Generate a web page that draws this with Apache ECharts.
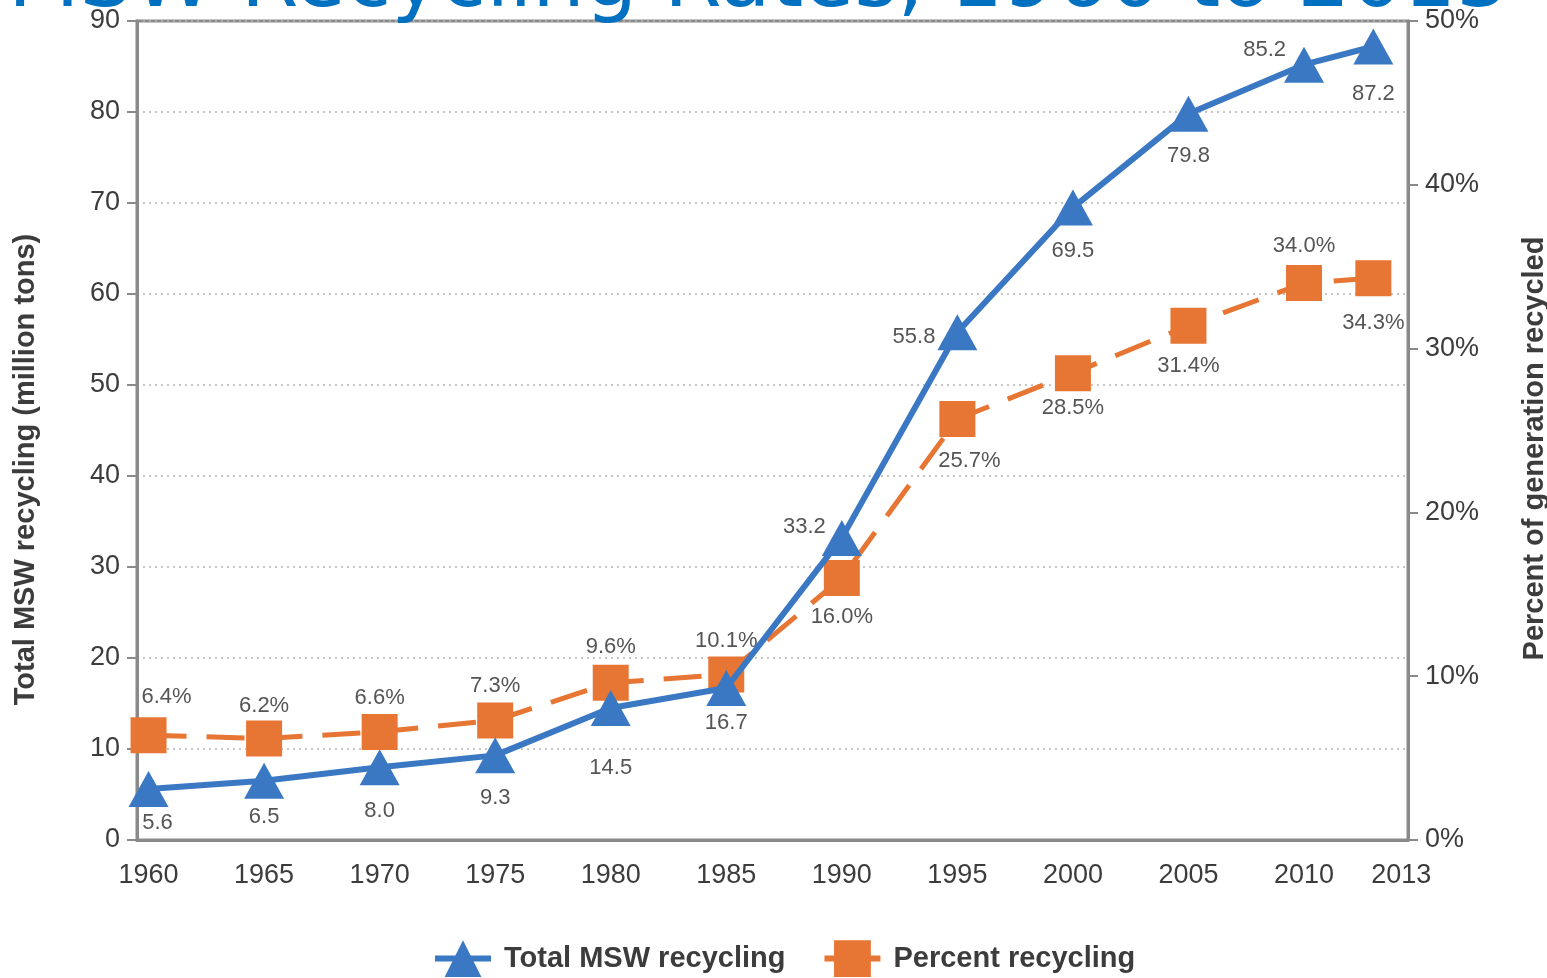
<!DOCTYPE html>
<html>
<head>
<meta charset="utf-8">
<title>MSW Recycling Rates, 1960 to 2013</title>
<script src="https://cdn.jsdelivr.net/npm/echarts@6/dist/echarts.min.js"></script>
<style>
  html, body { margin: 0; padding: 0; background: #ffffff; }
  #chart { width: 1547px; height: 978px; }
</style>
</head>
<body>
<div id="chart"></div>
<script>
// Municipal solid waste recycling, 1960–2013
const years = [1960, 1965, 1970, 1975, 1980, 1985, 1990, 1995, 2000, 2005, 2010, 2013];
const totalRecycling = [5.6, 6.5, 8.0, 9.3, 14.5, 16.7, 33.2, 55.8, 69.5, 79.8, 85.2, 87.2];   // million tons
const percentRecycled = [6.4, 6.2, 6.6, 7.3, 9.6, 10.1, 16.0, 25.7, 28.5, 31.4, 34.0, 34.3];   // % of generation
const yearTickLabels = [1960, 1965, 1970, 1975, 1980, 1985, 1990, 1995, 2000, 2005, 2010, 2013];

// placement of each value label relative to its marker: side, gap and nudge in px
const totalLabelSide = ['bottom', 'bottom', 'bottom', 'bottom', 'bottom', 'bottom', 'left', 'left', 'bottom', 'bottom', 'left', 'bottom'];
const totalLabelGap = [5, 7, 15, 14, 31, 6, -4, 2, 14, 13, -2, 18];
const totalLabelNudge = [[9, 0], [0, 0], [0, 0], [0, 0], [0, 0], [0, 0], [0, -11], [0, 5], [0, 0], [0, 0], [0, -15], [0, 0]];
const percentLabelSide = ['top', 'top', 'top', 'top', 'top', 'top', 'bottom', 'bottom', 'bottom', 'bottom', 'top', 'bottom'];
const percentLabelGap = [9, 4, 5, 5, 7, 5, 10, 13, 6, 11, 8, 16];
const percentLabelNudge = [[18, 0], [0, 0], [0, 0], [0, 0], [0, 0], [0, 0], [0, 0], [12, 0], [0, 0], [0, 0], [0, 0], [0, 0]];

const FONT = "'Liberation Sans', Arial, sans-serif";
const BLUE = '#3B78C4';
const ORANGE = '#E77635';
const AXIS_GREY = '#8a8a8a';
const TEXT = '#3c3c3c';

function makeLabel(side, gap, nudge) {
  return {
    show: true,
    position: side,
    distance: gap,
    offset: nudge,
    fontFamily: FONT,
    fontSize: 22,
    color: '#555555'
  };
}

const totalData = years.map((yr, i) => ({
  value: [yr, totalRecycling[i]],
  label: makeLabel(totalLabelSide[i], totalLabelGap[i], totalLabelNudge[i])
}));
const percentData = years.map((yr, i) => ({
  value: [yr, percentRecycled[i]],
  label: makeLabel(percentLabelSide[i], percentLabelGap[i], percentLabelNudge[i])
}));

const lastYear = yearTickLabels[yearTickLabels.length - 1];

const chart = echarts.init(document.getElementById('chart'), null, { renderer: 'canvas' });
chart.setOption({
  backgroundColor: '#ffffff',
  animation: false,
  graphic: [{
    type: 'text',
    x: 8,
    y: -16,
    z: 100,
    style: {
      text: 'MSW Recycling Rates, 1960 to 2013',
      fontFamily: "'DejaVu Sans', sans-serif",
      fontSize: 83,
      fill: '#0070C0',
      verticalAlign: 'middle'
    }
  }],
  grid: {
    left: 137, right: 139, top: 21, bottom: 138,
    outerBoundsMode: 'none',
    containLabel: false,
    show: true, borderColor: AXIS_GREY, borderWidth: 3, backgroundColor: 'transparent'
  },
  legend: {
    data: ['Total MSW recycling', 'Percent recycling'],
    bottom: -4,
    left: 427,
    itemWidth: 56,
    itemHeight: 46,
    itemGap: 36,
    lineStyle: { width: 6, type: 'solid' },
    textStyle: { fontFamily: FONT, fontSize: 29, fontWeight: 'bold', color: TEXT, padding: [0, 0, 0, 8] }
  },
  xAxis: {
    type: 'value',
    min: 1959.5,
    max: 2014.5,
    axisLine: { show: true, lineStyle: { color: AXIS_GREY, width: 3 } },
    axisTick: { show: false },
    splitLine: { show: false },
    axisLabel: {
      customValues: yearTickLabels,
      margin: 22,
      fontFamily: FONT,
      fontSize: 27,
      color: TEXT,
      formatter: v => (v === lastYear ? '{end|' + v + '}' : String(v)),
      rich: { end: { fontFamily: FONT, fontSize: 27, color: TEXT, padding: [0, 0, 0, 56] } }
    }
  },
  yAxis: [{
    type: 'value',
    min: 0, max: 90, interval: 10,
    name: 'Total MSW recycling (million tons)',
    nameLocation: 'middle',
    nameRotate: 90,
    nameGap: 97,
    nameTextStyle: { fontFamily: FONT, fontSize: 29, fontWeight: 'bold', color: TEXT, padding: [0, 78, 0, 0] },
    axisLine: { show: true, lineStyle: { color: AXIS_GREY, width: 3 } },
    axisTick: { show: true, inside: false, length: 10, lineStyle: { color: AXIS_GREY, width: 2 } },
    axisLabel: { margin: 17, fontFamily: FONT, fontSize: 27, color: TEXT },
    splitLine: { show: true, lineStyle: { color: '#b4b4b4', width: 1.5, type: [2, 4] } }
  }, {
    type: 'value',
    position: 'right',
    min: 0, max: 50, interval: 10,
    name: 'Percent of generation recycled',
    nameLocation: 'middle',
    nameRotate: 90,
    nameGap: 112,
    nameTextStyle: { fontFamily: FONT, fontSize: 29, fontWeight: 'bold', color: TEXT, padding: [0, 36, 0, 0] },
    axisLine: { show: true, lineStyle: { color: AXIS_GREY, width: 3 } },
    axisTick: { show: true, inside: false, length: 10, lineStyle: { color: AXIS_GREY, width: 2 } },
    axisLabel: { margin: 17, fontFamily: FONT, fontSize: 27, color: TEXT, formatter: '{value}%' },
    splitLine: { show: false }
  }],
  series: [{
    name: 'Percent recycling',
    type: 'line',
    yAxisIndex: 1,
    data: percentData,
    symbol: 'rect',
    symbolSize: 36,
    itemStyle: { color: ORANGE },
    lineStyle: { color: ORANGE, width: 5, type: [38, 20] },
    label: { formatter: p => p.value[1].toFixed(1) + '%' },
    z: 2
  }, {
    name: 'Total MSW recycling',
    type: 'line',
    yAxisIndex: 0,
    data: totalData,
    symbol: 'triangle',
    symbolSize: [40, 36],
    itemStyle: { color: BLUE },
    lineStyle: { color: BLUE, width: 6 },
    label: { formatter: p => p.value[1].toFixed(1) },
    z: 3
  }]
});
</script>
</body>
</html>
